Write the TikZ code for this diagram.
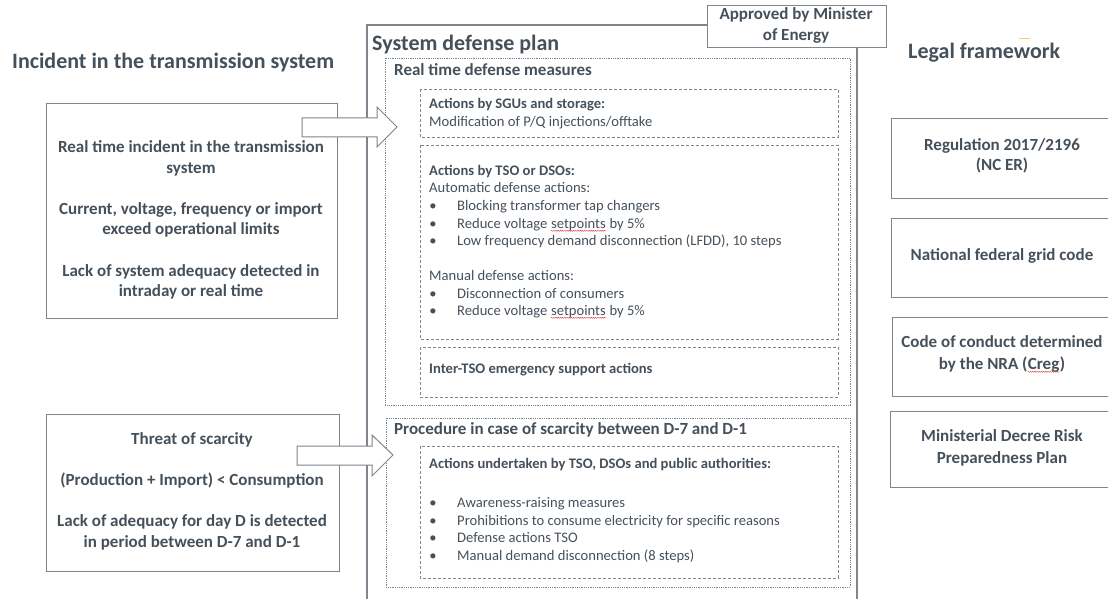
\documentclass[tikz,border=0pt]{standalone}
\usepackage{fontspec}
\setmainfont{Carlito}
\usetikzlibrary{decorations.pathmorphing}
\definecolor{txt}{HTML}{45505A}
\definecolor{ln}{HTML}{7E858C}
\definecolor{spell}{HTML}{E04040}
\newcommand\wavyword[1]{\tikz[baseline=(w.base)]{\node[inner sep=0pt] (w) {#1};\draw[spell, line width=0.45pt, decorate, decoration={snake, amplitude=0.5pt, segment length=2.2pt}] ([yshift=-2.3pt]w.base west) -- ([yshift=-2.3pt]w.base east);}}
\begin{document}
\begin{tikzpicture}[x=1pt,y=-1pt,
  every node/.style={text=txt, inner sep=0pt, text height=0.7em, text depth=0.2em},
  solidbox/.style={draw=ln, line width=1pt, minimum width=#1, anchor=north west},
  dotbox/.style={draw=ln, line width=0.6pt, dash pattern=on 1pt off 0.8pt},
  dashbox/.style={draw=ln, line width=0.8pt, dash pattern=on 3pt off 2pt},
  title/.style={font=\bfseries\fontsize{22}{26}\selectfont, anchor=west},
  boxtxt/.style={font=\bfseries\fontsize{17}{20}\selectfont, anchor=center},
  sect/.style={font=\bfseries\fontsize{17}{20}\selectfont, anchor=west},
  subh/.style={font=\bfseries\fontsize{14.6}{17}\selectfont, anchor=west},
  item/.style={font=\fontsize{14.6}{17}\selectfont, anchor=west},
  blt/.style={font=\fontsize{14.6}{17}\selectfont, anchor=center},
  blockarrow/.style={draw=ln, line width=1pt, fill=white, line join=miter}
]
\useasboundingbox (0,0) rectangle (1108,599);

% ---------- left column ----------
\node[title] (t1) at (12,66) {Incident in the transmission system};
\node[solidbox=291, minimum height=215] (inc) at (46,103) {};
\node[boxtxt] (i1a) at (191,150) {Real time incident in the transmission};
\node[boxtxt] (i1b) at (191,171) {system};
\node[boxtxt] (i2a) at (191,212) {Current, voltage, frequency or import};
\node[boxtxt] (i2b) at (191,232) {exceed operational limits};
\node[boxtxt] (i3a) at (191,274) {Lack of system adequacy detected in};
\node[boxtxt] (i3b) at (191,294) {intraday or real time};

\node[solidbox=293, minimum height=157] (sc) at (46,414) {};
\node[boxtxt] (s1) at (192,442) {Threat of scarcity};
\node[boxtxt] (s2) at (192,483) {(Production + Import) < Consumption};
\node[boxtxt] (s3a) at (192,524) {Lack of adequacy for day D is detected};
\node[boxtxt] (s3b) at (192,545) {in period between D-7 and D-1};

% ---------- middle column ----------
\coordinate (oTL) at (367,25);
\coordinate (oTR) at (707,25);
\coordinate (oBL) at (367,605);
\coordinate (oRT) at (857,47);
\coordinate (oRB) at (857,605);
\draw[ln, line width=1.2pt] (oBL) -- (oTL) -- (oTR);
\draw[ln, line width=1.2pt] (oRT) -- (oRB);
\node[solidbox=179, minimum height=42, fill=white] (appr) at (707,5) {};
\node[boxtxt] (ap1) at (796,17) {Approved by Minister};
\node[boxtxt] (ap2) at (796,38) {of Energy};

\node[title] (sdp) at (372,48) {System defense plan};

\draw[dotbox] (385,58) rectangle (850,405);
\node[sect] (rt) at (394,73) {Real time defense measures};

\draw[dashbox] (420,89) rectangle (838,137);
\node[subh] (sgu) at (429,106) {Actions by SGUs and storage:};
\node[item] (sgu1) at (429,124) {Modification of P/Q injections/offtake};

\draw[dashbox] (420,145) rectangle (838,339);
\node[subh] (tso) at (429,173) {Actions by TSO or DSOs:};
\node[item] (auto) at (429,190) {Automatic defense actions:};
\node[blt] (b1) at (433,208) {•};
\node[item] (a1) at (457,208) {Blocking transformer tap changers};
\node[blt] (b2) at (433,226) {•};
\node[item] (a2) at (457,226) {Reduce voltage \wavyword{setpoints} by 5\%};
\node[blt] (b3) at (433,243) {•};
\node[item] (a3) at (457,243) {Low frequency demand disconnection (LFDD), 10 steps};
\node[item] (man) at (429,278) {Manual defense actions:};
\node[blt] (b4) at (433,296) {•};
\node[item] (m1) at (457,296) {Disconnection of consumers};
\node[blt] (b5) at (433,313) {•};
\node[item] (m2) at (457,313) {Reduce voltage \wavyword{setpoints} by 5\%};

\draw[dashbox] (420,347) rectangle (838,397);
\node[subh] (inter) at (429,371) {Inter-TSO emergency support actions};

\draw[dotbox] (386,418) rectangle (850,587);
\node[sect] (proc) at (394,432) {Procedure in case of scarcity between D-7 and D-1};
\draw[dashbox] (420,446) rectangle (838,578);
\node[subh] (und) at (429,466) {Actions undertaken by TSO, DSOs and public authorities:};
\node[blt] (c1) at (433,505) {•};
\node[item] (p1) at (457,505) {Awareness-raising measures};
\node[blt] (c2) at (433,523) {•};
\node[item] (p2) at (457,523) {Prohibitions to consume electricity for specific reasons};
\node[blt] (c3) at (433,540) {•};
\node[item] (p3) at (457,540) {Defense actions TSO};
\node[blt] (c4) at (433,558) {•};
\node[item] (p4) at (457,558) {Manual demand disconnection (8 steps)};

% ---------- block arrows ----------
\draw[blockarrow] (302,118) -- (377,118) -- (377,107) -- (397,127) -- (377,147) -- (377,137) -- (302,137) -- cycle;
\draw[blockarrow] (297,446) -- (372,446) -- (372,435) -- (393,455) -- (372,476) -- (372,465) -- (297,465) -- cycle;

% ---------- right column ----------
\node[title] (lf) at (908,56) {Legal framework};
\draw[orange!80, line width=1pt, opacity=0.6] (1019,39) -- (1030,39);

\node[solidbox=240, minimum height=80] (r1) at (891,118) {};
\node[boxtxt] (r1a) at (1002,148) {Regulation 2017/2196};
\node[boxtxt] (r1b) at (1002,168) {(NC ER)};

\node[solidbox=240, minimum height=79] (r2) at (891,218) {};
\node[boxtxt] (r2a) at (1002,258) {National federal grid code};

\node[solidbox=240, minimum height=79] (r3) at (892,317) {};
\node[boxtxt] (r3a) at (1002,345) {Code of conduct determined};
\node[boxtxt] (r3b) at (1002,367) {by the NRA (\wavyword{Creg})};

\node[solidbox=240, minimum height=76] (r4) at (890,411) {};
\node[boxtxt] (r4a) at (1002,439) {Ministerial Decree Risk};
\node[boxtxt] (r4b) at (1002,461) {Preparedness Plan};
\end{tikzpicture}
\end{document}
